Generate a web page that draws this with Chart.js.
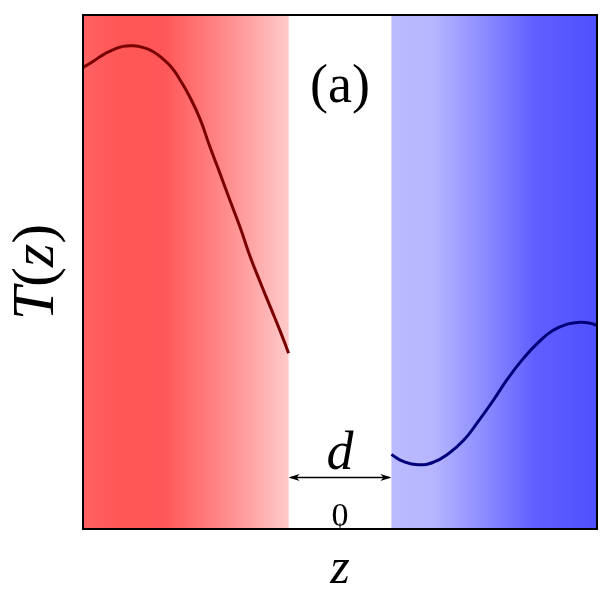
<!DOCTYPE html>
<html>
<head>
<meta charset="utf-8">
<script src="https://cdn.jsdelivr.net/npm/chart.js@4.4.0/dist/chart.umd.min.js"></script>
<style>
  html, body { margin: 0; padding: 0; background: #fff; }
  #wrap { width: 600px; height: 610px; }
</style>
</head>
<body>
<div id="wrap"><canvas id="tempChart"></canvas></div>
<script>
// Data (z in units of d, T normalised 0..1)
const leftZ  = [-2.5, -2.4, -2.31, -2.21, -2.11, -2.01, -1.92, -1.82, -1.72, -1.63, -1.56,
                -1.46, -1.36, -1.27, -1.17, -1.07, -0.97, -0.88, -0.78, -0.68, -0.58, -0.5];
const leftT  = [0.898, 0.910, 0.922, 0.932, 0.939, 0.940, 0.937, 0.929, 0.914, 0.896, 0.875,
                0.840, 0.797, 0.746, 0.693, 0.639, 0.586, 0.533, 0.482, 0.433, 0.384, 0.342];
const rightZ = [0.5, 0.61, 0.76, 0.91, 1.05, 1.2, 1.34, 1.49, 1.63, 1.78, 1.93, 2.07, 2.22, 2.34, 2.44, 2.5];
const rightT = [0.145, 0.132, 0.125, 0.130, 0.146, 0.172, 0.208, 0.250, 0.292, 0.331, 0.363, 0.386,
                0.399, 0.402, 0.400, 0.396];
const xTicks = [0];
const gapZ = [-0.5, 0.5];   // the region of width d
const zRange = [-2.5, 2.5];
const tRange = [0, 1];

const serif = '"Liberation Serif", "DejaVu Serif", serif';

function toPoints(xs, ys) {
    return xs.map((x, i) => ({ x: x, y: ys[i] }));
}

// draws a string made of pieces with their own font, centred on (cx, cy)
function mixedText(ctx, parts, cx, cy) {
    let total = 0;
    parts.forEach(p => { ctx.font = p.font; total += ctx.measureText(p.text).width; });
    let xpos = cx - total / 2;
    ctx.textAlign = 'left';
    ctx.textBaseline = 'middle';
    parts.forEach(p => {
        ctx.font = p.font;
        ctx.fillText(p.text, xpos, cy);
        xpos += ctx.measureText(p.text).width;
    });
}

// background slabs, frame, arrow and annotations
const slabPlugin = {
    id: 'slabs',
    beforeDraw(chart) {
        const { ctx, chartArea: a, scales: { x } } = chart;
        const g0 = x.getPixelForValue(gapZ[0]);
        const g1 = x.getPixelForValue(gapZ[1]);
        ctx.save();
        // hot side
        let grad = ctx.createLinearGradient(a.left, 0, g0, 0);
        grad.addColorStop(0, 'rgb(255,98,98)');
        grad.addColorStop(0.2, 'rgb(255,85,85)');
        grad.addColorStop(0.4, 'rgb(255,88,88)');
        grad.addColorStop(0.7, 'rgb(255,140,140)');
        grad.addColorStop(1, 'rgb(255,202,202)');
        ctx.fillStyle = grad;
        ctx.fillRect(a.left, a.top, g0 - a.left, a.bottom - a.top);
        // cold side
        grad = ctx.createLinearGradient(g1, 0, a.right, 0);
        grad.addColorStop(0, 'rgb(186,186,255)');
        grad.addColorStop(0.2, 'rgb(182,182,255)');
        grad.addColorStop(0.45, 'rgb(140,140,255)');
        grad.addColorStop(0.7, 'rgb(95,95,255)');
        grad.addColorStop(1, 'rgb(80,80,255)');
        ctx.fillStyle = grad;
        ctx.fillRect(g1, a.top, a.right - g1, a.bottom - a.top);
        ctx.restore();
    },
    afterDatasetsDraw(chart) {
        const { ctx, chartArea: a, scales: { x, y } } = chart;
        const g0 = x.getPixelForValue(gapZ[0]);
        const g1 = x.getPixelForValue(gapZ[1]);
        const mid = x.getPixelForValue(0);
        ctx.save();
        // frame
        ctx.strokeStyle = '#000';
        ctx.fillStyle = '#000';
        ctx.lineWidth = 2;
        ctx.strokeRect(a.left, a.top, a.right - a.left, a.bottom - a.top);
        // tick mark and label, pointing inward
        ctx.lineWidth = 1;
        xTicks.forEach(v => {
            const px = x.getPixelForValue(v);
            ctx.beginPath();
            ctx.moveTo(px, a.bottom);
            ctx.lineTo(px, a.bottom - 6);
            ctx.stroke();
            ctx.font = '34px ' + serif;
            ctx.textAlign = 'center';
            ctx.textBaseline = 'alphabetic';
            ctx.fillText(String(v), px, a.bottom - 3);
        });
        // double arrow showing d
        const ay = y.getPixelForValue(0.1);
        ctx.lineWidth = 1.5;
        ctx.beginPath();
        ctx.moveTo(g0 + 2, ay);
        ctx.lineTo(g1 - 2, ay);
        ctx.stroke();
        [[g0, 1], [g1, -1]].forEach(([px, dir]) => {
            ctx.beginPath();
            ctx.moveTo(px, ay);
            ctx.lineTo(px + dir * 11, ay - 3.5);
            ctx.lineTo(px + dir * 8, ay);
            ctx.lineTo(px + dir * 11, ay + 3.5);
            ctx.closePath();
            ctx.fill();
        });
        ctx.textAlign = 'center';
        ctx.textBaseline = 'alphabetic';
        ctx.font = 'italic 54px ' + serif;
        ctx.fillText('d', mid, ay - 9);
        ctx.font = '54px ' + serif;
        ctx.fillText('(a)', mid, y.getPixelForValue(0.83));
        // y axis title T(z)
        ctx.translate(37, (a.top + a.bottom) / 2);
        ctx.rotate(-Math.PI / 2);
        mixedText(ctx, [
            { text: 'T', font: 'italic 60px ' + serif },
            { text: '(', font: '60px ' + serif },
            { text: 'z', font: 'italic 60px ' + serif },
            { text: ')', font: '60px ' + serif }
        ], 0, 0);
        ctx.restore();
    }
};

const ctx = document.getElementById('tempChart').getContext('2d');
const tempChart = new Chart(ctx, {
    type: 'scatter',
    data: {
        datasets: [
            {
                label: 'hot',
                data: toPoints(leftZ, leftT),
                showLine: true,
                borderColor: '#7a0000',
                borderWidth: 3,
                pointRadius: 0,
                tension: 0.5,
                fill: false
            },
            {
                label: 'cold',
                data: toPoints(rightZ, rightT),
                showLine: true,
                borderColor: '#00007a',
                borderWidth: 3,
                pointRadius: 0,
                tension: 0.5,
                fill: false
            }
        ]
    },
    options: {
        responsive: true,
        maintainAspectRatio: false,
        animation: false,
        layout: { padding: { top: 15, right: 3, left: 0, bottom: 0 } },
        plugins: {
            legend: { display: false },
            tooltip: { enabled: false }
        },
        scales: {
            x: {
                type: 'linear',
                min: zRange[0],
                max: zRange[1],
                afterFit(scale) { scale.height = 81; },
                grid: { display: false },
                border: { display: false },
                ticks: { display: false },
                title: {
                    display: true,
                    text: 'z',
                    color: '#000',
                    font: { family: serif, size: 50, style: 'italic' },
                    padding: { top: 0, bottom: 10 }
                }
            },
            y: {
                type: 'linear',
                min: tRange[0],
                max: tRange[1],
                afterFit(scale) { scale.width = 83; },
                grid: { display: false },
                border: { display: false },
                ticks: { display: false },
                title: { display: false }
            }
        }
    },
    plugins: [slabPlugin]
});
</script>
</body>
</html>
